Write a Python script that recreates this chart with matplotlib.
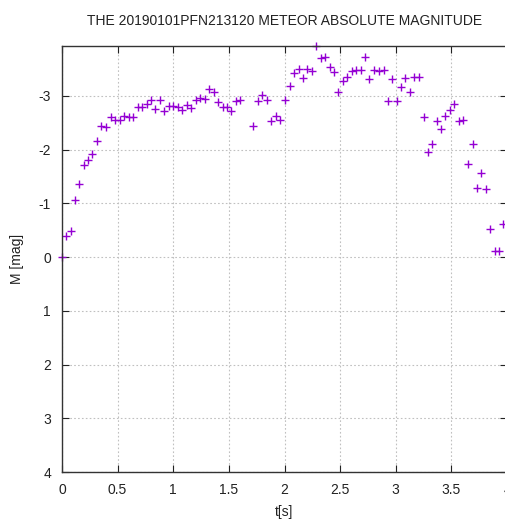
import matplotlib.pyplot as plt

plt.rcParams['font.family'] = ['Liberation Sans', 'DejaVu Sans']

# time [s] and absolute magnitude
t = [0.0, 0.036, 0.078, 0.114, 0.156, 0.195, 0.234, 0.273, 0.315, 0.354,
     0.396, 0.438, 0.48, 0.52, 0.56, 0.60, 0.64, 0.68, 0.72, 0.76,
     0.80, 0.84, 0.88, 0.92, 0.96, 1.00, 1.04, 1.078, 1.12, 1.16,
     1.20, 1.243, 1.282, 1.324, 1.363, 1.405, 1.444, 1.484, 1.523, 1.565,
     1.604, 1.72, 1.76, 1.80, 1.84, 1.88, 1.92, 1.96, 2.006, 2.045,
     2.084, 2.126, 2.165, 2.204, 2.245, 2.285, 2.324, 2.363, 2.405, 2.444,
     2.484, 2.525, 2.565, 2.606, 2.646, 2.685, 2.724, 2.763, 2.80, 2.847,
     2.89, 2.93, 2.967, 3.009, 3.05, 3.087, 3.13, 3.168, 3.207, 3.25,
     3.29, 3.327, 3.367, 3.405, 3.444, 3.486, 3.525, 3.565, 3.607, 3.65,
     3.69, 3.73, 3.77, 3.81, 3.85, 3.89, 3.93, 3.967]
mag = [0.0, -0.40, -0.48, -1.07, -1.37, -1.71, -1.81, -1.92, -2.16, -2.45,
       -2.43, -2.60, -2.55, -2.55, -2.63, -2.61, -2.61, -2.80, -2.80, -2.85,
       -2.92, -2.76, -2.92, -2.72, -2.82, -2.81, -2.79, -2.73, -2.84, -2.78,
       -2.92, -2.96, -2.95, -3.13, -3.07, -2.89, -2.79, -2.79, -2.72, -2.91,
       -2.92, -2.45, -2.91, -3.02, -2.92, -2.54, -2.63, -2.55, -2.93, -3.18,
       -3.42, -3.51, -3.34, -3.51, -3.47, -3.93, -3.71, -3.72, -3.54, -3.44,
       -3.08, -3.28, -3.35, -3.46, -3.49, -3.49, -3.72, -3.32, -3.48, -3.46,
       -3.48, -2.91, -3.31, -2.91, -3.16, -3.33, -3.08, -3.36, -3.35, -2.60,
       -1.95, -2.10, -2.54, -2.38, -2.63, -2.74, -2.85, -2.54, -2.55, -1.73,
       -2.11, -1.29, -1.57, -1.27, -0.52, -0.12, -0.11, -0.61]

xticks = [0, 0.5, 1, 1.5, 2, 2.5, 3, 3.5, 4]
xticklabels = ['0', '0.5', '1', '1.5', '2', '2.5', '3', '3.5', '4']
yticks = [-3, -2, -1, 0, 1, 2, 3, 4]
yticklabels = ['-3', '-2', '-1', '0', '1', '2', '3', '4']

fig = plt.figure(figsize=(5.05, 5.2), dpi=100)
ax = fig.add_axes([62 / 505, 48 / 520, 445 / 505, 426 / 520])

ax.plot(t, mag, linestyle='none', marker='+', markersize=5.5,
        markeredgewidth=1.0, color='#9400d3', clip_on=False)

ax.set_xlim(0, 4)
ax.set_ylim(4, -3.93)
ax.set_xticks(xticks)
ax.set_xticklabels(xticklabels)
ax.set_yticks(yticks)
ax.set_yticklabels(yticklabels)

ax.grid(True, color='#c0c0c0', linestyle=(0, (1.5, 2)), linewidth=0.8)
ax.tick_params(direction='in', top=True, right=True, length=5,
               labelsize=10, colors='#222222', pad=8)
for s in ax.spines.values():
    s.set_color('#333333')
    s.set_linewidth(1.0)

ax.set_title('THE 20190101PFN213120 METEOR ABSOLUTE MAGNITUDE',
             fontsize=10, color='#222222', pad=15)
ax.set_xlabel('t[s]', fontsize=10, color='#222222', labelpad=6)
ax.set_ylabel('M [mag]', fontsize=10, color='#222222', labelpad=10)

fig.savefig('out.png', dpi=100)
